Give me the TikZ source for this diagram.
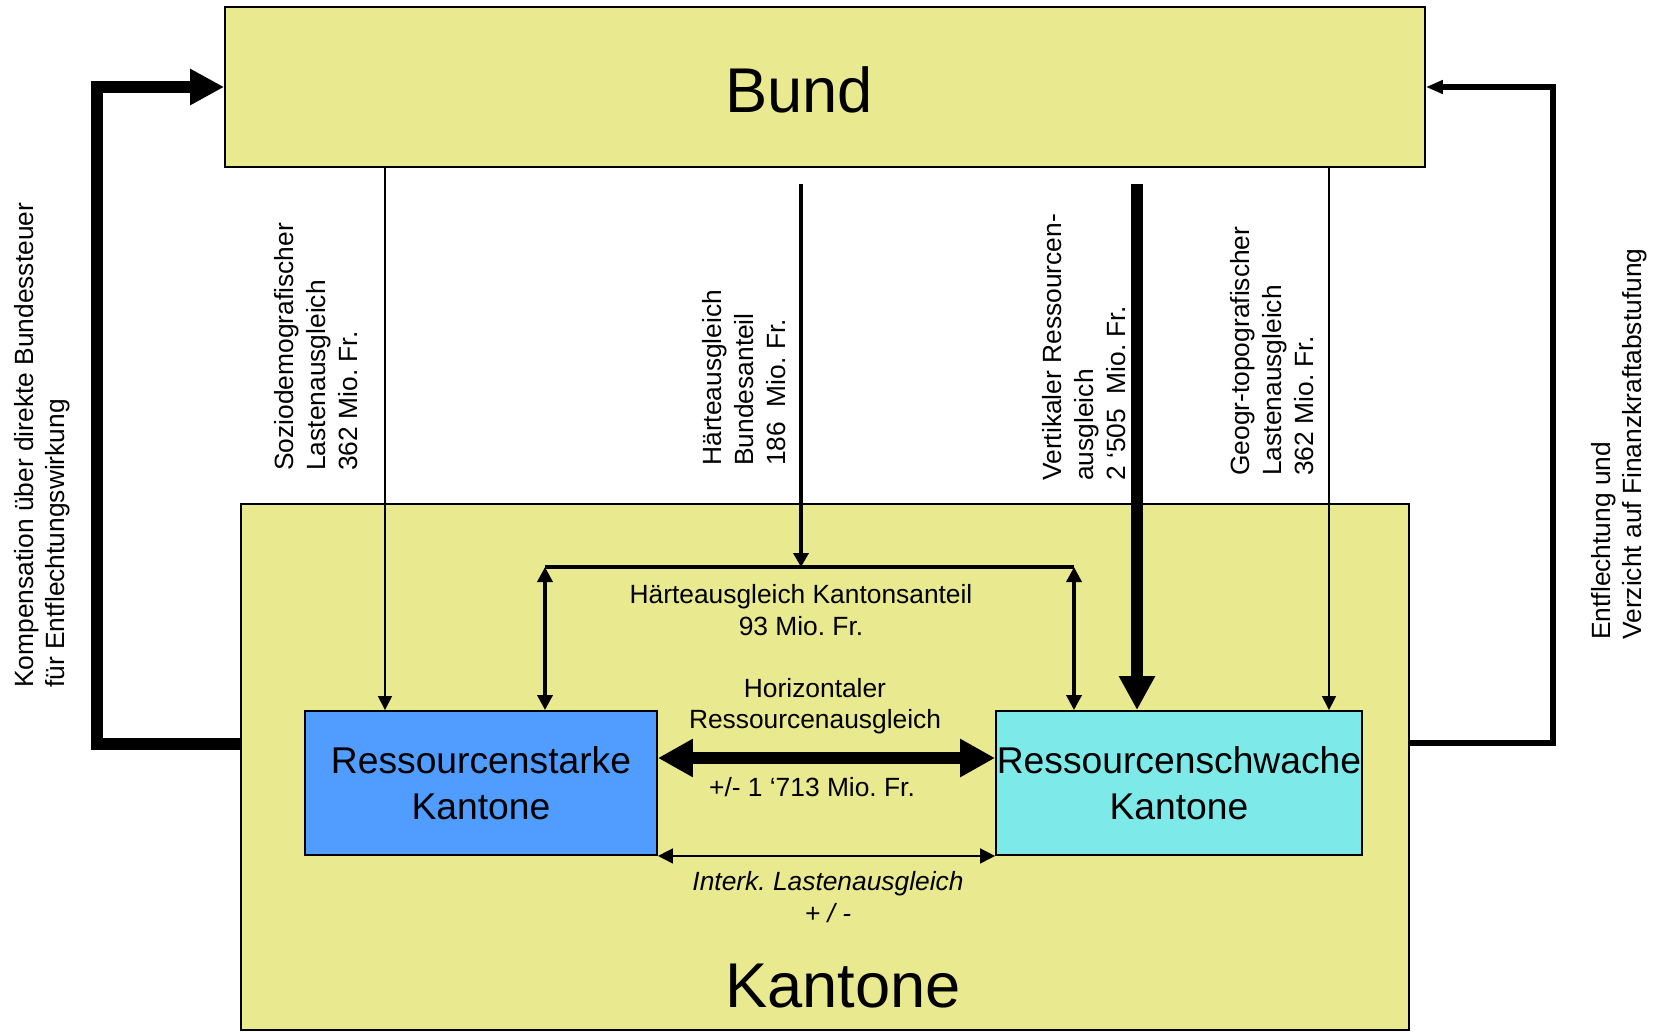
\documentclass[tikz,border=0pt]{standalone}
\usepackage{fontspec}
\setmainfont{Liberation Sans}
\frenchspacing
\usetikzlibrary{positioning, calc, arrows.meta}
\definecolor{kantongelb}{RGB}{233,233,143}
\definecolor{starkblau}{RGB}{80,157,255}
\definecolor{schwachcyan}{RGB}{125,233,233}
\tikzstyle{ThinArrow} = [
%thin flow with small triangle head:
line width = 0.85pt, -{Triangle[length = 0.28cm, width = 0.28cm]}
]
\tikzstyle{ThinDouble} = [
line width = 0.85pt, {Triangle[length = 0.3cm, width = 0.3cm]}-{Triangle[length = 0.3cm, width = 0.3cm]}
]
\tikzstyle{MidArrow} = [
line width = 2pt, -{Triangle[length = 0.28cm, width = 0.3cm]}
]
\tikzstyle{MidDouble} = [
line width = 2pt, {Triangle[length = 0.3cm, width = 0.3cm]}-{Triangle[length = 0.3cm, width = 0.3cm]}
]
\tikzstyle{HeavyArrow} = [
%big flows:
line width = 6.6pt, -{Triangle[length = 0.68cm, width = 0.68cm]}
]
\tikzstyle{HeavyDouble} = [
line width = 6.8pt, {Triangle[length = 0.7cm, width = 0.72cm]}-{Triangle[length = 0.7cm, width = 0.72cm]}
]
\tikzstyle{BackArrow} = [
line width = 3.8pt, -{Triangle[length = 0.34cm, width = 0.26cm]}
]

\begin{document}
\begin{tikzpicture}[x = 0.02cm, y = -0.02cm,
			level/.style = {rectangle, draw, line width = 1.1pt, fill = kantongelb, inner sep = 0pt},
			kanton/.style = {rectangle, draw, line width = 1.1pt, inner sep = 0pt, minimum height = 2.88cm, align = center, font = \fontsize{21.2}{25.9}\selectfont},
			small/.style = {align = center, inner sep = 0pt, font = \fontsize{15}{18}\selectfont},
			flow/.style = {small, align = left, rotate = 90, anchor = west},
			title/.style = {inner sep = 0pt, font = \fontsize{36}{40}\selectfont},
		]
		\useasboundingbox (0,0) rectangle (1659,1031);

		\node[level, minimum width = 24cm, minimum height = 3.2cm](bund) at (825,87){};
		\node[level, minimum width = 23.36cm, minimum height = 10.52cm](kantone) at (825,767){};
		\node[kanton, fill = starkblau, minimum width = 7.04cm](starke) at (481,783){Ressourcenstarke\\Kantone};
		\node[kanton, fill = schwachcyan, minimum width = 7.32cm](schwach) at (1179,783){Ressourcenschwache\\Kantone};
		\node[title](bundtxt) at (799,90){Bund};
		\node[title](kantonetxt) at (843,986){Kantone};

		\node[flow](sozio) at (316,471){Soziodemografischer\\Lastenausgleich\\362 Mio. Fr.};
		\node[flow](haertebund) at (744,466){Härteausgleich\\Bundesanteil\\186\ \ Mio. Fr.};
		\node[flow](vertikal) at (1084,481){Vertikaler Ressourcen-\\ausgleich\\2 ‘505\ \ Mio. Fr.};
		\node[flow](geogr) at (1272,476){Geogr-topografischer\\Lastenausgleich\\362 Mio. Fr.};
		\node[flow](kompensation) at (42,688){Kompensation über direkte Bundessteuer\\für Entflechtungswirkung};
		\node[flow](entflechtung) at (1619,640){Entflechtung und\\Verzicht auf Finanzkraftabstufung};

		\node[small](haertekanton) at (801,610){Härteausgleich Kantonsanteil\\93 Mio. Fr.};
		\node[small](horizontal) at (815,706){Horizontaler\\Ressourcenausgleich};
		\node[small](betrag) at (812,787){+/- 1 ‘713 Mio. Fr.};
		\node[small, font = \fontsize{15}{18}\selectfont\itshape](interk) at (828,897){Interk. Lastenausgleich\\+ / -};

		\coordinate(xsozio) at (385,0);
		\coordinate(xgeogr) at (1329,0);
		\coordinate(haertestart) at (801,184);
		\coordinate(barL) at (545,567);
		\coordinate(barM) at (801,567);
		\coordinate(barR) at (1074,567);
		\coordinate(vertstart) at (1137,184);
		\coordinate(hz) at (0,758);
		\coordinate(lk) at (97,744);
		\coordinate(rk) at (1553,743);

		\draw[ThinArrow](bund.south -| xsozio)--(starke.north -| xsozio);
		\draw[ThinArrow](bund.south -| xgeogr)--(schwach.north -| xgeogr);
		\draw[MidArrow](haertestart)--(barM);
		\draw[line width = 2.5pt](barL)--(barR);
		\draw[MidDouble](barL)--(starke.north -| barL);
		\draw[MidDouble](barR)--(schwach.north -| barR);
		\draw[HeavyArrow](vertstart)--(schwach.north -| vertstart);
		\draw[HeavyDouble](starke.east |- hz)--(schwach.west |- hz);
		\draw[ThinDouble](starke.south east)--(schwach.south west);
		\draw[HeavyArrow](kantone.west |- lk)--(lk) |- (bund.west);
		\draw[BackArrow](kantone.east |- rk)--(rk) |- (bund.east);

	\end{tikzpicture}
\end{document}
